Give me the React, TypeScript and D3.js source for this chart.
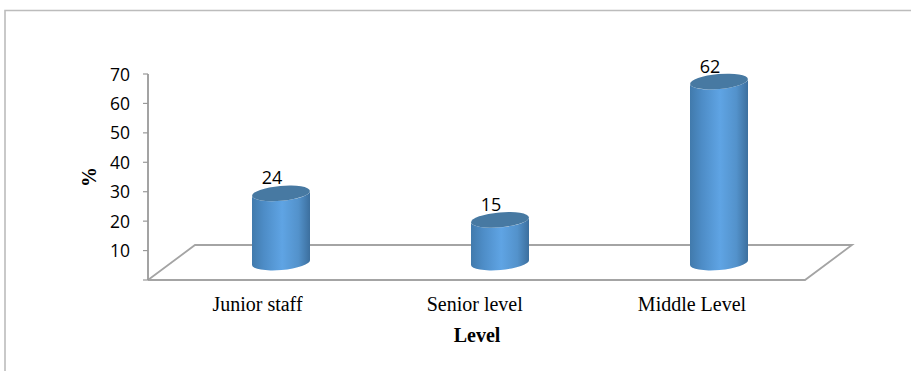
import React from "react";
import * as d3 from "d3";

const categories = ["Junior staff", "Senior level", "Middle Level"];
const percentages = [24, 15, 62];
const yTicks = [10, 20, 30, 40, 50, 60, 70];
const allTicks = [0, ...yTicks];

const W = 911;
const H = 371;
const axisX = 148;
const floorDepthX = 47;
const floorDepthY = 35;
const floorRight = 805;
const barHalf = 29;
const capRy = 7.5;
const tiltDeg = -5;
const capLift = 16;
const baseLift = 17.5;

const y = d3.scaleLinear().domain([0, 70]).range([280, 74]);
const x = d3.scalePoint<string>().domain(categories).range([281, 719]);
const labelX = d3.scalePoint<string>().domain(categories).range([257.5, 692]);

const serif = "'Liberation Serif', serif";
const sans = "'Open Sans', 'Noto Sans', sans-serif";

const tiltRad = (tiltDeg * Math.PI) / 180;
const edgeDy = Math.sin(tiltRad) * barHalf;

function cylinderPath(cx: number, top: number, bottom: number) {
  const l = cx - barHalf;
  const r = cx + barHalf;
  return [
    `M${l},${top - edgeDy}`,
    `L${l},${bottom - edgeDy}`,
    `A${barHalf},${capRy} ${tiltDeg} 0 0 ${r},${bottom + edgeDy}`,
    `L${r},${top + edgeDy}`,
    `A${barHalf},${capRy} ${tiltDeg} 0 1 ${l},${top - edgeDy}`,
    "Z",
  ].join(" ");
}

export default function App() {
  const floor = d3.line()([
    [axisX, y(0)],
    [axisX + floorDepthX, y(0) - floorDepthY],
    [852, y(0) - floorDepthY],
    [floorRight, y(0)],
    [axisX, y(0)],
  ]);
  return (
    <svg
      width={W}
      height={H}
      viewBox={`0 0 ${W} ${H}`}
      style={{ position: "absolute", left: 0, top: 0, display: "block" }}
    >
      <defs>
        <linearGradient id="barBody" x1="0" x2="1" y1="0" y2="0">
          <stop offset="0" stopColor="#417aac" />
          <stop offset="0.2" stopColor="#4d8cc6" />
          <stop offset="0.52" stopColor="#5fa4e4" />
          <stop offset="0.8" stopColor="#5392cb" />
          <stop offset="1" stopColor="#3c6f9e" />
        </linearGradient>
      </defs>
      <rect width={W} height={H} fill="#fff" />

      {/* outer frame: only the top and left edges are visible */}
      <path d="M5,371 V10.5 H911" fill="none" stroke="#bcbcbc" strokeWidth={1.6} />

      {/* floor of the 3-D plot */}
      <path d={floor ?? ""} fill="#fff" stroke="#a4a4a4" strokeWidth={1.8} />

      {/* value axis */}
      <line x1={axisX} x2={axisX} y1={y(70)} y2={y(0)} stroke="#999" strokeWidth={1.8} />
      {allTicks.map((t) => (
        <line key={t} x1={axisX - 5} x2={axisX} y1={y(t)} y2={y(t)} stroke="#999" strokeWidth={1.2} />
      ))}
      {yTicks.map((t) => (
        <text key={t} x={axisX - 18} y={y(t) + 6.5} textAnchor="end" fontFamily={sans} fontSize={17.5} fill="#000">
          {t}
        </text>
      ))}

      {/* cylinders */}
      {categories.map((c, i) => {
        const cx = x(c) as number;
        const v = percentages[i];
        const bottom = y(0) - baseLift;
        const top = y(v) - capLift;
        return (
          <g key={c}>
            <path d={cylinderPath(cx, top, bottom)} fill="url(#barBody)" />
            <ellipse
              cx={cx}
              cy={top}
              rx={barHalf}
              ry={capRy}
              fill="#4779a2"
              transform={`rotate(${tiltDeg} ${cx} ${top})`}
            />
            <text x={cx - 9} y={top - 9} textAnchor="middle" fontFamily={sans} fontSize={18} fill="#000">
              {v}
            </text>
          </g>
        );
      })}

      {/* category labels */}
      {categories.map((c) => (
        <text key={c} x={labelX(c) as number} y={311} textAnchor="middle" fontFamily={serif} fontSize={20} fill="#000">
          {c}
        </text>
      ))}

      {/* axis titles */}
      <text x={477} y={342} textAnchor="middle" fontFamily={serif} fontSize={20} fontWeight="bold" fill="#000">
        Level
      </text>
      <text
        transform="translate(96,177) rotate(-90)"
        textAnchor="middle"
        fontFamily={serif}
        fontSize={20}
        fontWeight="bold"
        fill="#000"
      >
        %
      </text>
    </svg>
  );
}
